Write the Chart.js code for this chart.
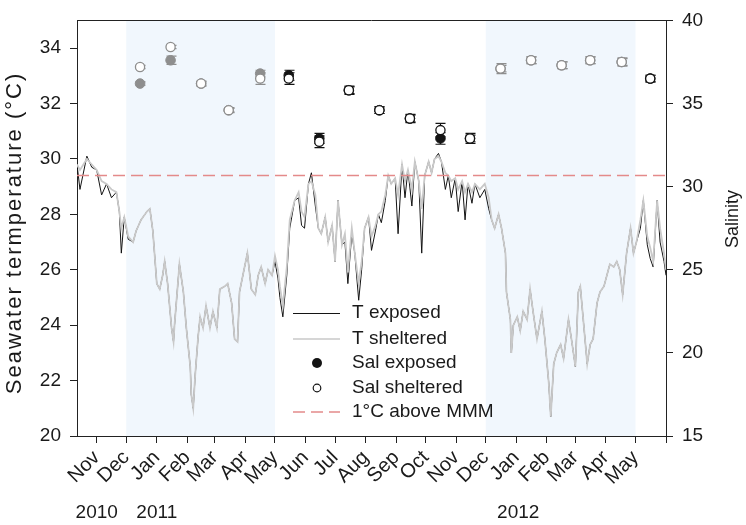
<!DOCTYPE html>
<html>
<head>
<meta charset="utf-8">
<script src="https://cdn.jsdelivr.net/npm/chart.js@4.4.1/dist/chart.umd.min.js"></script>
<style>
  html, body { margin: 0; padding: 0; background: #fff; }
</style>
</head>
<body>
<canvas id="myChart" width="746" height="525"></canvas>
<script>
// x values are days counted from 1 Nov 2010
var monthDays = [0, 30, 61, 92, 120, 151, 181, 212, 242, 273, 304, 334, 365, 395, 426, 457, 486, 517, 547, 578];
var monthLabels = ["Nov", "Dec", "Jan", "Feb", "Mar", "Apr", "May", "Jun", "Jul", "Aug", "Sep", "Oct", "Nov", "Dec", "Jan", "Feb", "Mar", "Apr", "May", ""];
var yearLabels = ["2010", "2011", "2012"];
var yearDays = [0, 61, 428];

// shaded periods (Dec - Apr)
var wetStart = [30, 395];
var wetEnd = [181, 547];

var tempTicks = [20, 22, 24, 26, 28, 30, 32, 34];
var salTicks = [15, 20, 25, 30, 35, 40];
var mmmLevel = 29.4;

// Temperature series
var tDays = [
  -20, -17, -10, -5, 0, 5, 10, 15, 20, 23,
  25, 28, 32, 37, 40, 45, 51, 54, 57, 61,
  64, 67, 69, 72, 76, 78, 79, 84, 88, 91,
  95, 96, 98, 100, 103, 105, 108, 111, 115, 118,
  122, 125, 130, 133, 137, 140, 143, 145, 149, 153,
  157, 161, 164, 167, 171, 174, 178, 181, 184, 186,
  189, 193, 196, 201, 205, 208, 211, 215, 218, 222,
  225, 228, 232, 235, 239, 242, 245, 249, 252, 255,
  259, 262, 266, 269, 272, 276, 279, 283, 286, 289,
  293, 296, 299, 303, 306, 310, 313, 316, 320, 323,
  327, 330, 333, 337, 340, 343, 347, 350, 354, 357,
  360, 364, 367, 371, 374, 377, 381, 384, 389, 394,
  398, 401, 404, 408, 411, 415, 416, 420, 421, 423,
  427, 430, 433, 437, 440, 443, 447, 452, 455, 459,
  461, 464, 467, 471, 474, 479, 482, 486, 489, 491,
  494, 498, 501, 504, 508, 511, 515, 518, 521, 525,
  528, 531, 534, 538, 542, 545, 548, 552, 555, 559,
  562, 565, 569, 572, 576, 578
];
var tSheltered = [
  29.8, 29.6, 30.0, 29.8, 29.6, 29.2, 29.1, 28.9, 28.8, 28.1,
  27.5, 27.9, 27.2, 27.0, 27.4, 27.8, 28.1, 28.2, 27.4, 25.5,
  25.3, 25.8, 26.3, 25.5, 23.9, 23.4, 24.0, 26.2, 25.2, 23.9,
  22.5, 21.5, 21.0, 22.2, 23.6, 24.3, 23.9, 24.7, 23.9, 24.5,
  23.9, 25.3, 25.4, 25.5, 24.8, 23.5, 23.4, 25.2, 25.9, 26.6,
  25.3, 25.1, 25.8, 26.1, 25.5, 26.0, 25.8, 26.5, 26.0, 25.4,
  24.7, 26.1, 27.8, 28.5, 28.8, 28.1, 27.9, 29.1, 29.2, 28.7,
  27.5, 27.3, 27.9, 27.0, 27.6, 26.3, 28.5, 26.9, 27.3, 25.9,
  27.5, 26.6, 25.5, 26.3, 27.5, 27.9, 27.2, 27.6, 28.0, 28.1,
  28.7, 29.4, 29.1, 29.3, 28.7, 29.8, 29.2, 29.6, 28.9, 29.9,
  29.2, 28.2, 29.4, 29.9, 29.5, 30.0, 30.1, 29.9, 29.5, 29.4,
  29.2, 29.3, 28.9, 29.2, 28.8, 29.1, 28.8, 29.1, 28.9, 29.1,
  28.6, 27.8, 27.5, 28.0, 27.5, 26.6, 25.2, 24.2, 23.0, 24.0,
  24.3, 23.8, 24.5, 24.2, 25.3, 24.5, 23.5, 24.5, 23.5, 21.9,
  20.7, 22.6, 23.0, 23.3, 22.8, 24.2, 23.5, 22.5, 25.2, 25.4,
  24.2, 22.6, 23.3, 23.5, 24.8, 25.2, 25.4, 25.8, 26.2, 26.1,
  26.3, 26.0, 25.1, 26.6, 27.5, 26.6, 27.0, 27.8, 28.5, 27.2,
  26.8, 26.3, 28.5, 27.5, 26.6, 26.0
];
var tExposed = [
  29.8, 28.9, 30.1, 29.7, 29.6, 28.7, 29.1, 28.6, 28.8, 28.1,
  26.6, 27.9, 27.1, 27.0, 27.4, 27.8, 28.1, 28.2, 27.4, 25.5,
  25.3, 25.8, 26.3, 25.5, 23.9, 23.4, 24.0, 26.2, 25.2, 23.9,
  22.5, 21.5, 21.0, 22.2, 23.6, 24.3, 23.9, 24.7, 23.9, 24.5,
  23.9, 25.3, 25.4, 25.5, 24.8, 23.5, 23.4, 25.2, 25.9, 26.6,
  25.3, 25.1, 25.8, 26.1, 25.5, 26.0, 25.8, 26.3, 25.7, 25.0,
  24.3, 25.8, 27.5, 28.5, 28.6, 27.6, 27.5, 29.1, 29.5, 28.3,
  27.5, 27.3, 27.9, 27.0, 27.6, 26.3, 28.5, 26.9, 27.0, 25.5,
  27.3, 26.6, 24.9, 26.0, 27.5, 27.9, 26.7, 27.4, 28.0, 27.7,
  28.5, 29.4, 29.1, 29.3, 27.3, 29.8, 28.6, 29.6, 28.3, 29.9,
  29.2, 26.6, 29.4, 29.9, 29.5, 30.0, 30.2, 29.9, 28.9, 29.4,
  28.6, 29.3, 28.1, 29.2, 27.8, 29.1, 28.4, 29.1, 28.6, 28.9,
  28.2, 27.8, 27.5, 28.0, 27.5, 26.6, 25.2, 24.2, 23.0, 24.0,
  24.3, 23.8, 24.5, 24.2, 25.3, 24.5, 23.5, 24.5, 23.5, 21.9,
  20.7, 22.6, 23.0, 23.3, 22.8, 24.2, 23.5, 22.5, 25.2, 25.4,
  24.2, 22.6, 23.3, 23.5, 24.8, 25.2, 25.4, 25.8, 26.2, 26.1,
  26.3, 26.0, 25.1, 26.6, 27.5, 26.6, 27.0, 27.5, 28.5, 26.9,
  26.4, 26.1, 28.5, 27.0, 26.3, 25.8
];

// Salinity, monthly samples
var salDays = [44, 75, 106, 134, 166, 195, 226, 256, 287, 318, 349, 379, 410, 441, 472, 501, 533, 562];
var salExposed = [36.2, 37.6, 36.2, 34.6, 36.8, 36.7, 32.9, 35.8, 34.6, 34.1, 32.9, 32.9, 37.1, 37.6, 37.3, 37.6, 37.5, 36.5];
var salSheltered = [37.2, 38.4, 36.2, 34.6, 36.5, 36.5, 32.7, 35.8, 34.6, 34.1, 33.4, 32.9, 37.1, 37.6, 37.3, 37.6, 37.5, 36.5];
var salExposedErr = [0.1, 0.25, 0.1, 0.1, 0.2, 0.3, 0.3, 0.2, 0.2, 0.2, 0.35, 0.2, 0.2, 0.2, 0.2, 0.2, 0.2, 0.2];
var salShelteredErr = [0.1, 0.1, 0.15, 0.15, 0.35, 0.35, 0.35, 0.25, 0.2, 0.25, 0.4, 0.3, 0.3, 0.2, 0.2, 0.2, 0.25, 0.2];

var FONT = '"Liberation Sans", Arial, sans-serif';
var GRAY_MARK = '#8e8e8e';
var BLACK = '#141414';

function inWet(d) {
    for (var i = 0; i < wetStart.length; i++) {
        if (d >= wetStart[i] && d <= wetEnd[i]) return true;
    }
    return false;
}
function markColor(ctx) {
    var raw = ctx.raw;
    if (!raw) return BLACK;
    return inWet(raw.x) ? GRAY_MARK : BLACK;
}
function pts(xs, ys) {
    return xs.map(function (x, i) { return {x: x, y: ys[i]}; });
}

// shading + error bars
var backPlugin = {
    id: 'back',
    beforeDatasetsDraw: function (chart) {
        var ctx = chart.ctx, a = chart.chartArea, sx = chart.scales.x, sy = chart.scales.y2;
        ctx.save();
        ctx.fillStyle = '#f1f7fd';
        for (var i = 0; i < wetStart.length; i++) {
            var x0 = sx.getPixelForValue(wetStart[i]);
            var x1 = sx.getPixelForValue(wetEnd[i]);
            ctx.fillRect(x0, a.top, x1 - x0, a.bottom - a.top);
        }
        ctx.lineWidth = 1.2;
        [[salExposed, salExposedErr], [salSheltered, salShelteredErr]].forEach(function (s) {
            salDays.forEach(function (d, i) {
                var x = Math.round(sx.getPixelForValue(d)) + 0.5;
                var yt = sy.getPixelForValue(s[0][i] + s[1][i]);
                var yb = sy.getPixelForValue(s[0][i] - s[1][i]);
                ctx.strokeStyle = inWet(d) ? GRAY_MARK : BLACK;
                ctx.beginPath();
                ctx.moveTo(x, yt); ctx.lineTo(x, yb);
                ctx.moveTo(x - 5, yt); ctx.lineTo(x + 5, yt);
                ctx.moveTo(x - 5, yb); ctx.lineTo(x + 5, yb);
                ctx.stroke();
            });
        });
        ctx.restore();
    }
};

// frame top, year labels, axis titles, legend
var frontPlugin = {
    id: 'front',
    afterDatasetsDraw: function (chart) {
        var ctx = chart.ctx;
        var ds = chart.data.datasets;
        ctx.save();
        ctx.font = '19px ' + FONT;
        ctx.fillStyle = '#1a1a1a';
        ctx.textBaseline = 'middle';
        var rows = [313, 339, 363, 388, 412];
        var lx0 = 293, lx1 = 340, lcx = 317, tx = 352;
        var order = [3, 2, 1, 0, 4];
        order.forEach(function (di, r) {
            ctx.fillText(ds[di].label, tx, rows[r]);
        });
        // T exposed
        ctx.strokeStyle = BLACK; ctx.lineWidth = 1;
        ctx.beginPath(); ctx.moveTo(lx0, rows[0] + 0.5); ctx.lineTo(lx1, rows[0] + 0.5); ctx.stroke();
        // T sheltered
        ctx.strokeStyle = ds[2].borderColor; ctx.lineWidth = 1.5;
        ctx.beginPath(); ctx.moveTo(lx0, rows[1]); ctx.lineTo(lx1, rows[1]); ctx.stroke();
        // Sal exposed
        ctx.fillStyle = BLACK;
        ctx.beginPath(); ctx.arc(lcx, rows[2], 5, 0, Math.PI * 2); ctx.fill();
        // Sal sheltered
        ctx.strokeStyle = BLACK; ctx.lineWidth = 1.2; ctx.fillStyle = '#fff';
        ctx.beginPath(); ctx.arc(lcx, rows[3], 3.8, 0, Math.PI * 2); ctx.fill(); ctx.stroke();
        // MMM
        ctx.strokeStyle = ds[4].borderColor; ctx.lineWidth = 1.5; ctx.setLineDash(ds[4].borderDash);
        ctx.beginPath(); ctx.moveTo(lx0, rows[4]); ctx.lineTo(lx1, rows[4]); ctx.stroke();
        ctx.setLineDash([]);
        ctx.restore();
    },
    afterDraw: function (chart) {
        var ctx = chart.ctx, a = chart.chartArea, sx = chart.scales.x;
        ctx.save();
        ctx.strokeStyle = '#222'; ctx.lineWidth = 1;
        ctx.beginPath();
        ctx.moveTo(a.left, Math.round(a.top) + 0.5); ctx.lineTo(a.right, Math.round(a.top) + 0.5);
        ctx.stroke();
        ctx.font = '19px ' + FONT;
        ctx.fillStyle = '#1a1a1a';
        ctx.textAlign = 'center';
        ctx.textBaseline = 'middle';
        yearLabels.forEach(function (lab, i) {
            ctx.fillText(lab, sx.getPixelForValue(yearDays[i]), 513);
        });
        // right title
        ctx.save();
        ctx.translate(733, 219);
        ctx.rotate(-Math.PI / 2);
        ctx.font = '18px ' + FONT;
        ctx.fillText('Salinity', 0, 0);
        ctx.restore();
        // left title
        ctx.save();
        ctx.translate(15, 233);
        ctx.rotate(-Math.PI / 2);
        ctx.font = '22px ' + FONT;
        ctx.letterSpacing = '2px';
        ctx.fillText('Seawater termperature (°C)', 0, 0);
        ctx.restore();
        ctx.restore();
    }
};

Chart.defaults.font.family = FONT;
Chart.defaults.color = '#1a1a1a';

var axisGrid = { drawOnChartArea: false, tickLength: 7, color: '#222', tickColor: '#222' };

var ctx = document.getElementById("myChart").getContext("2d");
var myChart = new Chart(ctx, {
    type: "scatter",
    data: {
        datasets: [{
            label: "Sal sheltered",
            data: pts(salDays, salSheltered),
            yAxisID: 'y2',
            pointRadius: 4.6,
            pointBorderWidth: 1.3,
            pointBackgroundColor: '#ffffff',
            pointBorderColor: markColor,
            order: 0
        }, {
            label: "Sal exposed",
            data: pts(salDays, salExposed),
            yAxisID: 'y2',
            pointRadius: 4.8,
            pointBorderWidth: 1,
            pointBackgroundColor: markColor,
            pointBorderColor: markColor,
            order: 1
        }, {
            label: "T sheltered",
            data: pts(tDays, tSheltered),
            yAxisID: 'y',
            showLine: true,
            borderColor: '#c9c9c9',
            borderWidth: 1.8,
            pointRadius: 0,
            order: 3
        }, {
            label: "T exposed",
            data: pts(tDays, tExposed),
            yAxisID: 'y',
            showLine: true,
            borderColor: BLACK,
            borderWidth: 1,
            pointRadius: 0,
            order: 4
        }, {
            label: "1°C above MMM",
            data: [{x: -20, y: mmmLevel}, {x: 578, y: mmmLevel}],
            yAxisID: 'y',
            showLine: true,
            borderColor: '#e48a8a',
            borderWidth: 1.5,
            borderDash: [12, 6],
            pointRadius: 0,
            order: 2
        }]
    },
    options: {
        responsive: false,
        animation: false,
        devicePixelRatio: 1,
        layout: { padding: { top: 12, left: 0, right: 0, bottom: 0 } },
        plugins: {
            legend: { display: false },
            tooltip: { enabled: false }
        },
        scales: {
            x: {
                type: 'linear',
                min: -20,
                max: 578,
                afterBuildTicks: function (s) { s.ticks = monthDays.map(function (v) { return {value: v}; }); },
                afterFit: function (s) { s.height = 89; },
                ticks: {
                    autoSkip: false,
                    maxRotation: 45,
                    minRotation: 45,
                    padding: 3,
                    font: { size: 20 },
                    callback: function (v, i) { return monthLabels[i]; }
                },
                grid: axisGrid,
                border: { color: '#222', width: 1 }
            },
            y: {
                position: 'left',
                min: 20,
                max: 35,
                afterBuildTicks: function (s) { s.ticks = tempTicks.map(function (v) { return {value: v}; }); },
                afterFit: function (s) { s.width = 77; },
                ticks: { font: { size: 19 }, padding: 9 },
                grid: axisGrid,
                border: { color: '#222', width: 1 }
            },
            y2: {
                position: 'right',
                min: 15,
                max: 40,
                afterBuildTicks: function (s) { s.ticks = salTicks.map(function (v) { return {value: v}; }); },
                afterFit: function (s) { s.width = 80; },
                ticks: { font: { size: 19 }, padding: 9 },
                grid: axisGrid,
                border: { color: '#222', width: 1 }
            }
        }
    },
    plugins: [backPlugin, frontPlugin]
});
</script>
</body>
</html>
